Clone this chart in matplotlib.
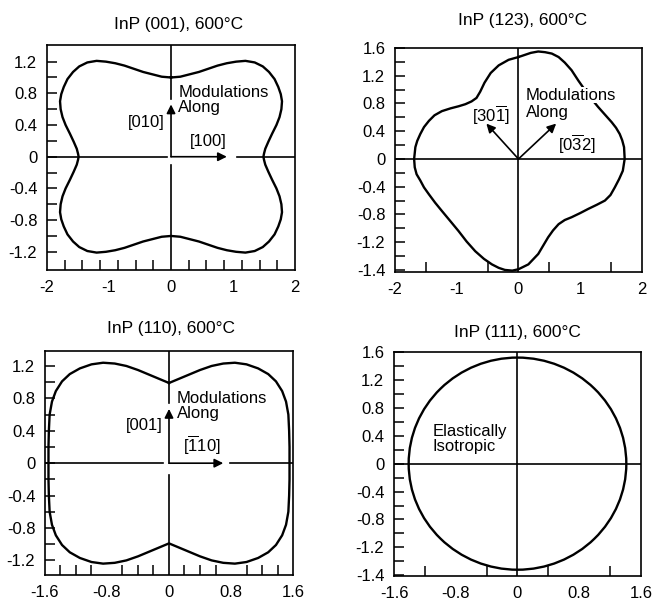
import numpy as np
import matplotlib
matplotlib.use('Agg')
import matplotlib.pyplot as plt
from matplotlib.patches import Ellipse
from matplotlib.ticker import FixedLocator, NullFormatter

plt.rcParams['font.family'] = ['Liberation Sans', 'DejaVu Sans']
plt.rcParams['mathtext.fontset'] = 'custom'
plt.rcParams['mathtext.rm'] = 'Liberation Sans'
plt.rcParams['mathtext.it'] = 'Liberation Sans:italic'

# --- dados ---
# InP (001): primeiro quadrante (x, y), simetrico nos dois eixos
q001_x = [0.00, 0.15, 0.30, 0.45, 0.60, 0.75, 0.90, 1.05, 1.20, 1.35, 1.48, 1.58, 1.67, 1.73, 1.77, 1.79, 1.78, 1.75, 1.70, 1.63, 1.57, 1.52, 1.50, 1.49]
q001_y = [1.00, 1.01, 1.04, 1.07, 1.11, 1.15, 1.18, 1.20, 1.21, 1.19, 1.14, 1.07, 0.98, 0.88, 0.79, 0.70, 0.60, 0.50, 0.40, 0.29, 0.19, 0.10, 0.04, 0.00]

# InP (123): contorno completo (x, y)
c123_x = [0.00, -0.16, -0.32, -0.45, -0.55, -0.62, -0.68, -0.76, -0.86, -0.97, -1.10, -1.24, -1.36, -1.45, -1.53, -1.59, -1.64, -1.67, -1.69, -1.68, -1.65, -1.59, -1.53, -1.45, -1.35, -1.24, -1.10, -0.97, -0.84, -0.70, -0.56, -0.43, -0.32, -0.22, -0.10, 0.00, 0.16, 0.32, 0.40, 0.48, 0.56, 0.65, 0.75, 0.86, 1.00, 1.13, 1.27, 1.40, 1.49, 1.56, 1.63, 1.69, 1.72, 1.71, 1.68, 1.64, 1.58, 1.51, 1.40, 1.29, 1.18, 1.08, 0.97, 0.86, 0.75, 0.65, 0.54, 0.43, 0.32, 0.20, 0.10, 0.00]
c123_y = [1.47, 1.43, 1.35, 1.24, 1.10, 0.97, 0.88, 0.83, 0.79, 0.76, 0.73, 0.69, 0.63, 0.55, 0.46, 0.36, 0.26, 0.17, 0.00, -0.12, -0.22, -0.31, -0.41, -0.51, -0.63, -0.75, -0.90, -1.04, -1.19, -1.33, -1.44, -1.52, -1.57, -1.60, -1.61, -1.59, -1.52, -1.37, -1.25, -1.13, -1.03, -0.94, -0.88, -0.84, -0.78, -0.72, -0.66, -0.60, -0.52, -0.41, -0.29, -0.17, 0.00, 0.17, 0.27, 0.36, 0.45, 0.53, 0.64, 0.75, 0.87, 0.99, 1.13, 1.28, 1.39, 1.47, 1.52, 1.54, 1.55, 1.53, 1.50, 1.47]

# InP (110): primeiro quadrante (x, y)
q110_x = [0.00, 0.10, 0.25, 0.40, 0.55, 0.70, 0.85, 1.00, 1.15, 1.28, 1.38, 1.46, 1.51, 1.54, 1.55, 1.555, 1.555]
q110_y = [0.99, 1.03, 1.09, 1.15, 1.20, 1.23, 1.24, 1.22, 1.17, 1.10, 1.01, 0.89, 0.76, 0.60, 0.40, 0.20, 0.00]

# InP (111): circulo (semi-eixos em unidades dos dados)
r111_x = 1.41
r111_y = 1.52

titles = ['InP (001), 600°C', 'InP (123), 600°C', 'InP (110), 600°C', 'InP (111), 600°C']

FS = 12


def mirror(qx, qy):
    qx = np.array(qx)
    qy = np.array(qy)
    x = np.concatenate([qx, qx[::-1], -qx, -qx[::-1]])
    y = np.concatenate([qy, -qy[::-1], -qy, qy[::-1]])
    return x, y


def style(ax, xlim, ylim, xmaj, xlab, xmin, ymaj, ylab, ymin):
    ax.set_xlim(xlim)
    ax.set_ylim(ylim)
    ax.xaxis.set_major_locator(FixedLocator(xmaj))
    ax.set_xticklabels(xlab)
    ax.xaxis.set_minor_locator(FixedLocator(xmin))
    ax.yaxis.set_major_locator(FixedLocator(ymaj))
    ax.set_yticklabels(ylab)
    ax.yaxis.set_minor_locator(FixedLocator(ymin))
    ax.yaxis.set_minor_formatter(NullFormatter())
    ax.tick_params(which='both', direction='in', top=False, right=False,
                   labelsize=FS, width=1.1, color='k')
    ax.tick_params(axis='x', which='major', length=0, pad=7)
    ax.tick_params(axis='x', which='minor', length=7)
    ax.tick_params(axis='y', which='major', length=7, pad=7)
    ax.tick_params(axis='y', which='minor', length=7)
    for s in ax.spines.values():
        s.set_linewidth(1.2)


def arrow(ax, tip):
    ax.annotate('', xy=tip, xytext=(0, 0),
                arrowprops=dict(arrowstyle='-|>', color='k', lw=1.2,
                                mutation_scale=13, shrinkA=0, shrinkB=0))


fig = plt.figure(figsize=(6.52, 6.01), dpi=100)
ax1 = fig.add_axes([0.0721, 0.5507, 0.3804, 0.3744])
ax2 = fig.add_axes([0.6058, 0.5474, 0.3788, 0.3727])
ax3 = fig.add_axes([0.0690, 0.0433, 0.3804, 0.3727])
ax4 = fig.add_axes([0.6043, 0.0416, 0.3788, 0.3727])

lk = dict(color='k', lw=1.2)

# Grafico 1: (001)
x, y = mirror(q001_x, q001_y)
ax1.plot(x, y, color='k', lw=1.7)
ax1.plot([-2, -0.07], [0, 0], **lk)
ax1.plot([1.06, 2], [0, 0], **lk)
ax1.plot([0, 0], [0.73, 1.5], **lk)
ax1.plot([0, 0], [-0.11, -1.5], **lk)
arrow(ax1, (0.9, 0))
arrow(ax1, (0, 0.66))
ax1.text(0.12, 0.71, 'Modulations\nAlong', fontsize=FS, ha='left', va='center', linespacing=1.0)
ax1.text(-0.1, 0.43, '[010]', fontsize=FS, ha='right', va='center')
ax1.text(0.6, 0.19, '[100]', fontsize=FS, ha='center', va='center')
style(ax1, (-2, 2), (-1.43, 1.41), [-2, -1, 0, 1, 2], ['-2', '-1', '0', '1', '2'],
      [k * 2 / 7 for k in range(-6, 7)],
      [-1.2, -0.8, -0.4, 0, 0.4, 0.8, 1.2], ['-1.2', '-0.8', '-0.4', '0', '0.4', '0.8', '1.2'],
      [-1.0, -0.6, -0.2, 0.2, 0.6, 1.0])

# Grafico 2: (123)
ax2.plot(c123_x, c123_y, color='k', lw=1.7, zorder=2)
ax2.axhline(0, **lk)
ax2.axvline(0, **lk)
arrow(ax2, (-0.52, 0.51))
arrow(ax2, (0.61, 0.51))
ax2.text(0.12, 0.92, 'Modulations', fontsize=FS, ha='left', va='center',
         zorder=3, bbox=dict(facecolor='white', edgecolor='none', pad=0.5))
ax2.text(0.12, 0.67, 'Along', fontsize=FS, ha='left', va='center')
ax2.text(-0.45, 0.63, '[30$\\overline{\\mathrm{1}}$]', fontsize=FS, ha='center', va='center')
ax2.text(0.94, 0.21, '[0$\\overline{\\mathrm{3}}$2]', fontsize=FS, ha='center', va='center')
style(ax2, (-2, 2), (-1.63, 1.6), [-2, -1, 0, 1, 2], ['-2', '-1', '0', '1', '2'],
      [-1.5, -1, -0.5, 0.5, 1, 1.5],
      [-1.6, -1.2, -0.8, -0.4, 0, 0.4, 0.8, 1.2, 1.6],
      ['-1.4', '-1.2', '-0.8', '-0.4', '0', '0.4', '0.8', '1.2', '1.6'],
      [-1.4, -1.0, -0.6, -0.2, 0.2, 0.6, 1.0, 1.4])

# Grafico 3: (110)
x, y = mirror(q110_x, q110_y)
ax3.plot(x, y, color='k', lw=1.7)
ax3.plot([-1.6, -0.08], [0, 0], **lk)
ax3.plot([0.79, 1.6], [0, 0], **lk)
ax3.plot([0, 0], [0.74, 1.5], **lk)
ax3.plot([0, 0], [-0.15, -1.5], **lk)
arrow(ax3, (0.70, 0))
arrow(ax3, (0, 0.67))
ax3.text(0.10, 0.71, 'Modulations\nAlong', fontsize=FS, ha='left', va='center', linespacing=1.0)
ax3.text(-0.08, 0.46, '[001]', fontsize=FS, ha='right', va='center')
ax3.text(0.43, 0.22, '[$\\overline{\\mathrm{1}}$10]', fontsize=FS, ha='center', va='center')
style(ax3, (-1.6, 1.6), (-1.38, 1.385), [-1.6, -0.8, 0, 0.8, 1.6],
      ['-1.6', '-0.8', '0', '0.8', '1.6'],
      [k * 0.2 for k in range(-7, 8) if k != 0],
      [-1.2, -0.8, -0.4, 0, 0.4, 0.8, 1.2], ['-1.2', '-0.8', '-0.4', '0', '0.4', '0.8', '1.2'],
      [-1.0, -0.6, -0.2, 0.2, 0.6, 1.0])

# Grafico 4: (111)
ax4.add_patch(Ellipse((0, 0), 2 * r111_x, 2 * r111_y, fill=False, edgecolor='k', lw=1.7))
ax4.axhline(0, **lk)
ax4.axvline(0, **lk)
ax4.text(-1.1, 0.36, 'Elastically\nIsotropic', fontsize=FS, ha='left', va='center', linespacing=1.0)
style(ax4, (-1.6, 1.6), (-1.61, 1.6), [-1.6, -0.8, 0, 0.8, 1.6],
      ['-1.6', '-0.8', '0', '0.8', '1.6'],
      [-1.2, -0.8, -0.4, 0.4, 0.8, 1.2],
      [-1.6, -1.2, -0.8, -0.4, 0, 0.4, 0.8, 1.2, 1.6],
      ['-1.4', '-1.2', '-0.8', '-0.4', '0', '0.4', '0.8', '1.2', '1.6'],
      [-1.4, -1.0, -0.6, -0.2, 0.2, 0.6, 1.0, 1.4])

fig.text(179 / 652, 1 - 24 / 601, titles[0], fontsize=12.5, ha='center', va='center')
fig.text(523 / 652, 1 - 21 / 601, titles[1], fontsize=12.5, ha='center', va='center')
fig.text(171 / 652, 1 - 329 / 601, titles[2], fontsize=12.5, ha='center', va='center')
fig.text(517 / 652, 1 - 333 / 601, titles[3], fontsize=12.5, ha='center', va='center')

fig.savefig('out.png', dpi=100)
